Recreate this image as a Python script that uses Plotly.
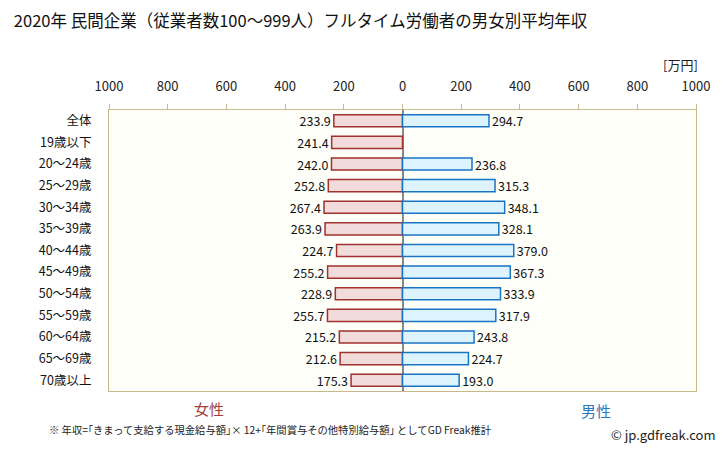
import plotly.graph_objects as go

categories = ["全体", "19歳以下", "20～24歳", "25～29歳", "30～34歳", "35～39歳", "40～44歳",
              "45～49歳", "50～54歳", "55～59歳", "60～64歳", "65～69歳", "70歳以上"]
female = [233.9, 241.4, 242.0, 252.8, 267.4, 263.9, 224.7, 255.2, 228.9, 255.7, 215.2, 212.6, 175.3]
male = [294.7, None, 236.8, 315.3, 348.1, 328.1, 379.0, 367.3, 333.9, 317.9, 243.8, 224.7, 193.0]
tick_vals = [-1000, -800, -600, -400, -200, 0, 200, 400, 600, 800, 1000]
tick_text = [str(abs(v)) for v in tick_vals]

FONT = "Noto Sans CJK JP"

fig = go.Figure()
fig.add_trace(go.Bar(
    y=categories, x=[-v for v in female], orientation="h",
    marker=dict(color="#f2dcdb", line=dict(color="#a0312e", width=1.5)),
    width=0.56,
    text=[f"{v:.1f}" for v in female], textposition="outside", constraintext="none",
    textfont=dict(size=12.5, color="#111", family=FONT),
    cliponaxis=False, hoverinfo="skip",
))
fig.add_trace(go.Bar(
    y=categories, x=male, orientation="h",
    marker=dict(color="#ddf4fe", line=dict(color="#1a74c4", width=1.5)),
    width=0.56,
    text=[f"{v:.1f}" if v is not None else "" for v in male], textposition="outside",
    constraintext="none",
    textfont=dict(size=12.5, color="#111", family=FONT),
    cliponaxis=False, hoverinfo="skip",
))

fig.update_layout(
    width=728, height=451,
    margin=dict(l=109, r=32, t=110, b=60),
    paper_bgcolor="white", plot_bgcolor="#fffffa",
    barmode="overlay", bargap=0.4, showlegend=False,
    font=dict(family=FONT, color="#222"),
    title=dict(text="2020年 民間企業（従業者数100～999人）フルタイム労働者の男女別平均年収",
               x=0.019, xanchor="left", y=0.952, yanchor="middle",
               font=dict(size=16.5, color="#111", family=FONT)),
    xaxis=dict(range=[-1000, 1000], side="top", tickvals=tick_vals, ticktext=tick_text,
               showgrid=False, zeroline=True, zerolinecolor="#888", zerolinewidth=1.5,
               ticks="outside", ticklen=5, tickcolor="#c8b88a", ticklabelstandoff=8,
               tickfont=dict(size=13, color="#222", family=FONT),
               showline=True, linecolor="#c8b88a", mirror=True, fixedrange=True),
    yaxis=dict(autorange="reversed", showgrid=False, ticks="", ticklen=0,
               ticklabelstandoff=14,
               tickfont=dict(size=12.5, color="#111", family=FONT),
               showline=True, linecolor="#c8b88a", mirror=True, fixedrange=True,
               range=[12.55, -0.55]),
    annotations=[
        dict(text="[万円]", x=700, y=64, showarrow=False, xanchor="right",
             font=dict(size=13, color="#222", family=FONT)),
        dict(text="女性", x=209, y=408, showarrow=False, xanchor="center",
             font=dict(size=15, color="#a0403a", family=FONT)),
        dict(text="男性", x=596, y=410, showarrow=False, xanchor="center",
             font=dict(size=15, color="#2a7ac0", family=FONT)),
        dict(text="※ 年収=｢きまって支給する現金給与額｣× 12+｢年間賞与その他特別給与額｣ としてGD Freak推計",
             x=47, y=430, showarrow=False, xanchor="left",
             font=dict(size=10.3, color="#222", family=FONT)),
        dict(text="© jp.gdfreak.com", x=718, y=434, showarrow=False, xanchor="right",
             font=dict(size=13, color="#222", family=FONT)),
    ],
)

# convert pixel annotation positions to paper coords
pw, ph = 728 - 109 - 32, 451 - 110 - 60
new_ann = []
for a in fig.layout.annotations:
    px, py = a.x, a.y
    a.xref = "paper"; a.yref = "paper"
    a.x = (px - 109) / pw
    a.y = (451 - 60 - py) / ph
    a.yanchor = "middle"
    new_ann.append(a)
fig.layout.annotations = new_ann

fig.write_html("out.html")
